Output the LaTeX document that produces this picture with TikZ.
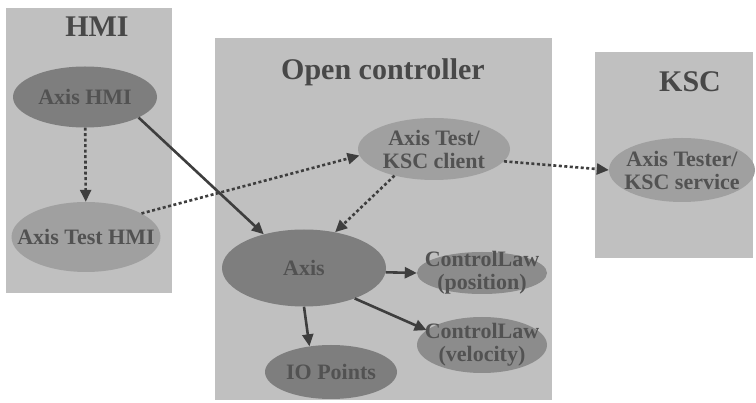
\documentclass[tikz,border=0pt]{standalone}
\usepackage{fontspec}
\setmainfont{Liberation Serif}
\usetikzlibrary{shapes.geometric,arrows.meta}

\definecolor{boxgray}{RGB}{192,192,192}
\definecolor{titlegray}{RGB}{72,72,72}
\definecolor{textgray}{RGB}{82,82,82}
\definecolor{linegray}{RGB}{62,62,62}
\definecolor{darkoval}{RGB}{126,126,126}
\definecolor{midoval}{RGB}{140,140,140}
\definecolor{lightoval}{RGB}{160,160,160}

\begin{document}
\begin{tikzpicture}[x=1pt, y=-1pt,
  area/.style={fill=boxgray, inner sep=0pt, outer sep=0pt, anchor=north west},
  title/.style={font=\fontsize{30}{32}\selectfont\bfseries, text=titlegray, anchor=base},
  oval/.style={ellipse, align=center, inner xsep=-16pt, inner ysep=-8pt, font=\fontsize{22}{23}\selectfont\bfseries, text=textgray},
  link/.style={draw=linegray, line width=2.6pt, -{Triangle[length=12pt,width=11pt]}},
  dotlink/.style={link, dash pattern=on 3pt off 2.5pt}]

\useasboundingbox (0,0) rectangle (756,403);

\node (hmibox) [area, minimum width=166pt, minimum height=285pt] at (6,8) {};
\node (ocbox) [area, minimum width=337pt, minimum height=362pt] at (215,38) {};
\node (kscbox) [area, minimum width=158pt, minimum height=206pt] at (595,52) {};

\node (hmititle) [title] at (97,37) {HMI};
\node (octitle) [title] at (383,80) {Open controller};
\node (ksctitle) [title] at (690,92) {KSC};

\node (axishmi) [oval, fill=darkoval, minimum width=144pt, minimum height=61pt] at (85,97) {Axis HMI};
\node (testhmi) [oval, fill=lightoval, minimum width=147pt, minimum height=70pt] at (86,237) {Axis Test HMI};

\node (client) [oval, fill=lightoval, minimum width=152pt, minimum height=62pt] at (434,149) {Axis Test/\\KSC client};
\node (axis) [oval, fill=darkoval, minimum width=164pt, minimum height=77pt] at (304,268) {Axis};
\node (position) [oval, fill=midoval, minimum width=130pt, minimum height=42pt] at (482,273) {ControlLaw\\(position)};
\node (velocity) [oval, fill=midoval, minimum width=130pt, minimum height=56pt] at (482,345) {ControlLaw\\(velocity)};
\node (iopoints) [oval, fill=darkoval, minimum width=132pt, minimum height=54pt] at (331,372) {IO Points};

\node (service) [oval, fill=lightoval, minimum width=146pt, minimum height=64pt] at (682,170) {Axis Tester/\\KSC service};

\draw [dotlink] (axishmi) -- (testhmi);
\draw [link] (axishmi.-21) -- (axis.140);
\draw [dotlink] (testhmi.23) -- (client.185);
\draw [dotlink] (client.214) -- (axis.49);
\draw [dotlink] (client.-10) -- (service.west);
\draw [link] (axis.-3) -- (position.west);
\draw [link] (axis.-31) -- (velocity.165);
\draw [link] (axis.south) -- (iopoints.130);

\end{tikzpicture}
\end{document}
